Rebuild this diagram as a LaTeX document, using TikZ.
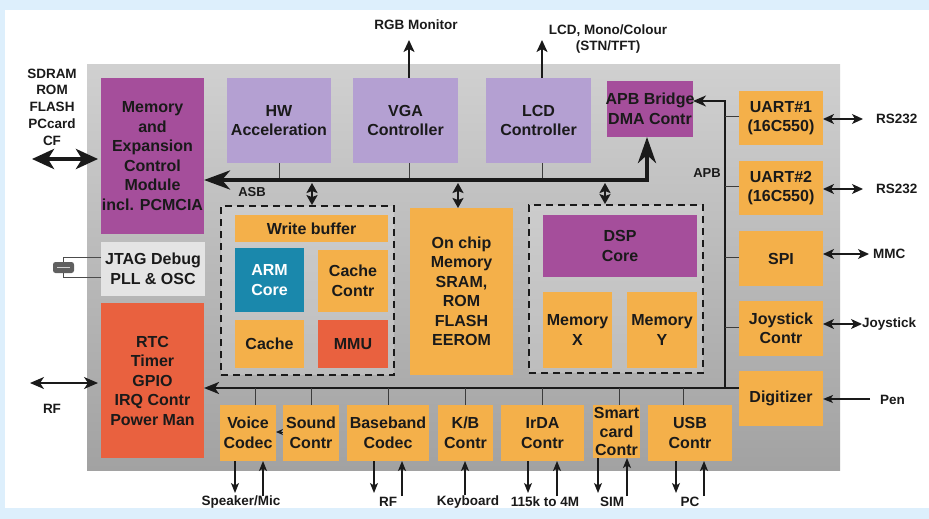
\documentclass[tikz,border=0pt]{standalone}
\usepackage{fontspec}
\setmainfont{Liberation Sans}
\usetikzlibrary{arrows.meta,fit}

\definecolor{bgblue}{HTML}{DDEFFC}
\definecolor{chipT}{HTML}{D0D0D0}
\definecolor{chipB}{HTML}{A2A2A2}
\definecolor{orng}{HTML}{F4B04A}
\definecolor{purp}{HTML}{A54E9B}
\definecolor{lav}{HTML}{B4A0D2}
\definecolor{redo}{HTML}{E9613F}
\definecolor{armblue}{HTML}{1A88AC}
\definecolor{jtagc}{HTML}{E4E4E4}
\definecolor{ink}{HTML}{1A1A1A}

\newcommand\blkfont{\fontsize{16}{19.5}\selectfont\bfseries}
\newcommand\lblfont{\fontsize{13.5}{16.7}\selectfont\bfseries}
\newcommand\smfont{\fontsize{13}{15}\selectfont\bfseries}

\tikzset{
  bxf/.style={inner sep=0pt, outer sep=0pt, draw=none},
  bx/.style={inner sep=0pt, outer sep=0pt, align=center, text=ink, font=\blkfont},
  dbox/.style={inner sep=0pt, draw=ink, line width=1.8pt, dash pattern=on 7pt off 5pt, fill=white, fill opacity=0.2},
  lbl/.style={inner sep=0pt, text=ink, font=\lblfont, align=center},
  smlbl/.style={inner sep=0pt, text=ink, font=\smfont},
  stub/.style={draw=ink!85, line width=1pt},
  asbw/.style={draw=ink, line width=4.2pt},
  apbw/.style={draw=ink, line width=2.2pt},
  outarr/.style={draw=ink, line width=1.8pt, -{Stealth[length=12pt,width=11pt,inset=3pt]}},
  dbl/.style={draw=ink, line width=1.3pt, {Stealth[length=11pt,width=10pt,inset=3pt]}-{Stealth[length=11pt,width=10pt,inset=3pt]}},
  rfdbl/.style={draw=ink, line width=1.5pt, {Stealth[length=14pt,width=12pt,inset=4pt]}-{Stealth[length=14pt,width=12pt,inset=4pt]}},
  bigdbl/.style={draw=ink, line width=4pt, {Stealth[length=22pt,width=20pt,inset=6pt]}-{Stealth[length=22pt,width=20pt,inset=6pt]}},
  sdbl/.style={draw=ink, line width=2.4pt, {Stealth[length=10pt,width=11pt,inset=2pt]}-{Stealth[length=10pt,width=11pt,inset=2pt]}},
  sarr/.style={draw=ink, line width=1.3pt, -{Stealth[length=10pt,width=8pt,inset=2.5pt]}},
  tinyarr/.style={draw=ink, line width=1pt, -{Stealth[length=7pt,width=6pt,inset=2pt]}},
  wire/.style={draw=gray!60!black, line width=1pt},
  xtal/.style={minimum width=21pt, minimum height=11pt, inner sep=0pt, rounded corners=2.5pt, fill=gray!75!black}
}

\newcommand\bx[8][]{%
  \node[bxf, fill=#3, fit={(#4,#5) (#6,#7)}] (#2) {};
  \node[bx, #1] (#2t) at (#2.center) {#8};}

\begin{document}
\begin{tikzpicture}[x=1pt,y=-1pt]
\useasboundingbox (0,0) rectangle (929,519);
% background
\fill[bgblue] (0,0) rectangle (929,519);
\fill[white] (5,10) rectangle (929,508);
% chip
\shade[top color=chipT, bottom color=chipB] (87,65) rectangle (840,470);

% dashed subsystems
\node[dbox, fit={(221,206) (394,375)}] (armsub) {};
\node[dbox, fit={(529,205) (703,373)}] (dspsub) {};

% left column
\bx{mem}{purp}{101}{78}{204}{234}{Memory\\and\\Expansion\\Control\\Module\\incl. PCMCIA}
\bx{jtag}{jtagc}{101}{242}{205}{296}{JTAG Debug\\PLL \& OSC}
\bx{rtc}{redo}{101}{303}{204}{458}{RTC\\Timer\\GPIO\\IRQ Contr\\Power Man}

% top row
\bx{hw}{lav}{227}{78}{331}{163}{HW\\Acceleration}
\bx{vga}{lav}{353}{78}{458}{163}{VGA\\Controller}
\bx{lcd}{lav}{486}{78}{591}{163}{LCD\\Controller}
\bx{apb}{purp}{607}{81}{693}{137}{APB Bridge\\DMA Contr}

% right column
\bx{uart1}{orng}{739}{91}{823}{145}{UART\#1\\(16C550)}
\bx{uart2}{orng}{739}{161}{823}{215}{UART\#2\\(16C550)}
\bx{spi}{orng}{739}{231}{823}{286}{SPI}
\bx{joy}{orng}{739}{301}{823}{356}{Joystick\\Contr}
\bx{dig}{orng}{739}{371}{823}{426}{Digitizer}

% ARM subsystem
\bx{wbuf}{orng}{235}{215}{388}{242}{Write buffer}
\bx[text=white]{arm}{armblue}{235}{248}{304}{312}{ARM\\Core}
\bx{cctl}{orng}{318}{250}{388}{312}{Cache\\Contr}
\bx{cache}{orng}{235}{320}{304}{368}{Cache}
\bx{mmu}{redo}{318}{320}{388}{368}{MMU}

% on chip memory
\bx{ocm}{orng}{410}{208}{513}{375}{On chip\\Memory\\SRAM,\\ROM\\FLASH\\EEROM}

% DSP subsystem
\bx{dsp}{purp}{543}{215}{697}{277}{DSP\\Core}
\bx{memx}{orng}{543}{292}{612}{368}{Memory\\X}
\bx{memy}{orng}{627}{292}{697}{368}{Memory\\Y}

% bottom row
\bx{voice}{orng}{220}{405}{276}{461}{Voice\\Codec}
\bx{sound}{orng}{283}{405}{339}{461}{Sound\\Contr}
\bx{base}{orng}{347}{405}{429}{461}{Baseband\\Codec}
\bx{kb}{orng}{438}{405}{493}{461}{K/B\\Contr}
\bx{irda}{orng}{501}{405}{584}{461}{IrDA\\Contr}
\bx[font=\fontsize{16}{18.5}\selectfont\bfseries]{smart}{orng}{593}{405}{640}{458}{Smart\\card\\Contr}
\bx{usb}{orng}{648}{405}{732}{461}{USB\\Contr}

% ---------- ASB bus ----------
\coordinate (asbC) at (647,180);
\draw[stub] (hw.south) -- (hw.south |- asbC);
\coordinate (vgaO) at (409,40);
\coordinate (lcdO) at (542,40);
\draw[stub] (vgaO |- vga.south) -- (vgaO |- asbC);
\draw[stub] (lcdO |- lcd.south) -- (lcdO |- asbC);
\draw[asbw, line join=miter, {Stealth[length=26pt,width=19pt,inset=8pt]}-{Stealth[length=26pt,width=18pt,inset=8pt]}]
  (asbC -| mem.east) -- (asbC) -- (asbC |- apb.south);
\node[smlbl] (asbl) at (252,192) {ASB};

\coordinate (d1) at (312,183);
\coordinate (d2) at (458,183);
\coordinate (d3) at (605,183);
\draw[sdbl] (d1) -- (d1 |- armsub.north);
\draw[sdbl] (d2) -- (d2 |- ocm.north);
\draw[sdbl] (d3) -- (d3 |- dspsub.north);

% ---------- APB bus ----------
\coordinate (apbT) at (725,101);
\coordinate (apbB) at (725,388);
\draw[apbw, line join=miter, {Stealth[length=15pt,width=12pt,inset=4pt]}-{Stealth[length=13pt,width=11pt,inset=4pt]}]
  (apbB -| rtc.east) -- (apbB) -- (apbT) -- (apbT -| apb.east);
\draw[apbw] (apbB) -- (apbB -| dig.west);
\node[smlbl] (apbl) at (707,173) {APB};
\draw[stub] (uart1.west) ++(0,-2) -- (725,116);
\draw[stub] (uart2.west) ++(0,-2) -- (725,186);
\draw[stub] (spi.west) ++(0,-1) -- (725,257.5);
\draw[stub] (joy.west) ++(0,-1) -- (725,327.5);

% bottom stubs
\draw[stub] ([xshift=7pt]voice.north) -- ++(0,-17);
\draw[stub] (sound.north) -- (sound.north |- apbB);
\draw[stub] (base.north) -- (base.north |- apbB);
\draw[stub] (kb.north) -- (kb.north |- apbB);
\draw[stub] (irda.north) -- (irda.north |- apbB);
\draw[stub] ([xshift=3pt]smart.north) -- ++(0,-17);
\draw[stub] ([xshift=-7pt]usb.north) -- ++(0,-17);

% sound -> voice
\coordinate (sv) at (283,432);
\draw[tinyarr] (sv) -- (sv -| voice.east);

% ---------- top outputs ----------
\draw[outarr] (vgaO |- vga.north) -- (vgaO);
\draw[outarr] (lcdO |- lcd.north) -- (lcdO);
\node[lbl] (rgb) at (416,25) {RGB Monitor};
\node[lbl] (lcdl) at (608,39) {LCD, Mono/Colour\\(STN/TFT)};

% ---------- left side ----------
\node[lbl] (sdram) at (52,107) {SDRAM\\ROM\\FLASH\\PCcard\\CF};
\coordinate (memL) at (32,159);
\draw[bigdbl, shorten >=3pt] (memL) -- (memL -| mem.west);
\coordinate (rfL) at (30,383);
\draw[rfdbl, shorten >=3pt] (rfL) -- (rfL -| rtc.west);
\node[lbl] (rfl) at (52,409) {RF};

% crystal
\node[xtal] (xtal) at (63.5,267.5) {};
\draw[gray!35, line width=0.8pt] ([xshift=4pt]xtal.west) -- ([xshift=-4pt]xtal.east);
\coordinate (j1) at (63.5,257);
\coordinate (j2) at (63.5,277);
\draw[wire] (jtag.west |- j1) -- (j1) -- (xtal.north);
\draw[wire] (jtag.west |- j2) -- (j2) -- (xtal.south);

% ---------- right side ----------
\coordinate (r1) at (863,119);
\coordinate (r2) at (863,189);
\coordinate (r3) at (869,254);
\coordinate (r4) at (862,324);
\coordinate (r5) at (870,399);
\draw[dbl] (uart1.east |- r1) -- (r1);
\draw[dbl] (uart2.east |- r2) -- (r2);
\draw[dbl] (spi.east |- r3) -- (r3);
\draw[dbl] (joy.east |- r4) -- (r4);
\draw[sarr] (r5) -- (r5 -| dig.east);
\node[lbl, anchor=west] (rs1) at (876,119) {RS232};
\node[lbl, anchor=west] (rs2) at (876,189) {RS232};
\node[lbl, anchor=west] (mmc) at (873,254) {MMC};
\node[lbl, anchor=west] (joyl) at (862,324) {Joystick};
\node[lbl, anchor=west] (pen) at (880,400) {Pen};

% ---------- bottom outputs ----------
\coordinate (vD) at (235,493);  \coordinate (vU) at (263,496);
\coordinate (bD) at (374,493);  \coordinate (bU) at (402,496);
\coordinate (kU) at (465,495);
\coordinate (iD) at (528,493);  \coordinate (iU) at (557,496);
\coordinate (sD) at (598,493);  \coordinate (sU) at (627,496);
\coordinate (uD) at (676,493);  \coordinate (uU) at (704,496);
\draw[sarr] (vD |- voice.south) -- (vD);
\draw[sarr] (vU) -- (vU |- voice.south);
\draw[sarr] (bD |- base.south) -- (bD);
\draw[sarr] (bU) -- (bU |- base.south);
\draw[sarr] (kU) -- (kU |- kb.south);
\draw[sarr] (iD |- irda.south) -- (iD);
\draw[sarr] (iU) -- (iU |- irda.south);
\draw[sarr] (sD |- smart.south) -- (sD);
\draw[sarr] (sU) -- (sU |- smart.south);
\draw[sarr] (uD |- usb.south) -- (uD);
\draw[sarr] (uU) -- (uU |- usb.south);
\node[lbl] (spk) at (241,502) {Speaker/Mic};
\node[lbl] (rfb) at (388,502) {RF};
\node[lbl] (kbd) at (468,502) {Keyboard};
\node[lbl] (irl) at (545,502) {115k to 4M};
\node[lbl] (sim) at (612,502) {SIM};
\node[lbl] (pc) at (690,502) {PC};
\end{tikzpicture}
\end{document}
